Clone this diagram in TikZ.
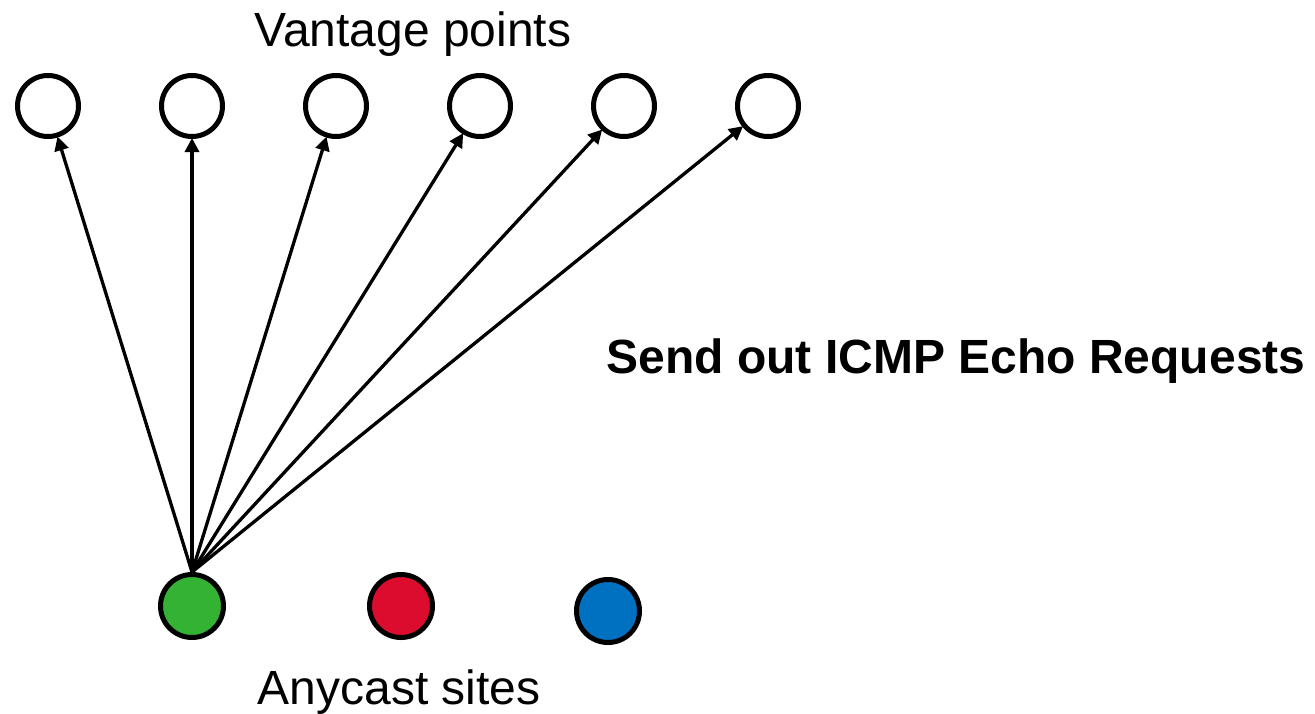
\documentclass[tikz,border=0pt]{standalone}
\usepackage{fontspec}
\setmainfont{Liberation Sans}
\usetikzlibrary{arrows.meta}
\definecolor{sitegreen}{HTML}{34B233}
\definecolor{sitered}{HTML}{DC0C2F}
\definecolor{siteblue}{HTML}{0070C0}
\tikzset{
  vp/.style={circle,draw=black,line width=5pt,fill=white,minimum size=61pt,inner sep=0pt},
  site/.style={circle,draw=black,line width=5pt,minimum size=63pt,inner sep=0pt},
  probe/.style={line width=3.3pt,-{Triangle[length=14pt,width=14pt]},shorten >=-1pt},
  lbl/.style={font=\fontsize{48pt}{54pt}\selectfont,anchor=base,inner sep=0pt},
  bold/.style={font=\fontsize{48pt}{54pt}\selectfont\bfseries,anchor=base,inner sep=0pt}
}
\begin{document}
\begin{tikzpicture}[x=1pt,y=-1pt]
\useasboundingbox (0,0) rectangle (1315,713);
\node[site,fill=sitegreen] (g) at (192,606) {};
\node[site,fill=sitered] (r) at (401,606) {};
\node[site,fill=siteblue] (b) at (608,611) {};
\foreach \i/\x in {1/48,2/192,3/336,4/480,5/624,6/768}{
  \node[vp] (v\i) at (\x,106) {};
}
\foreach \i in {1,...,6}{
  \draw[probe] (g.north) -- (v\i);
}
\node[lbl] (tv) at (413,46) {Vantage points};
\node[lbl] (ta) at (399,704) {Anycast sites};
\node[bold] (ts) at (956,373) {Send out ICMP Echo Requests};
\end{tikzpicture}
\end{document}
